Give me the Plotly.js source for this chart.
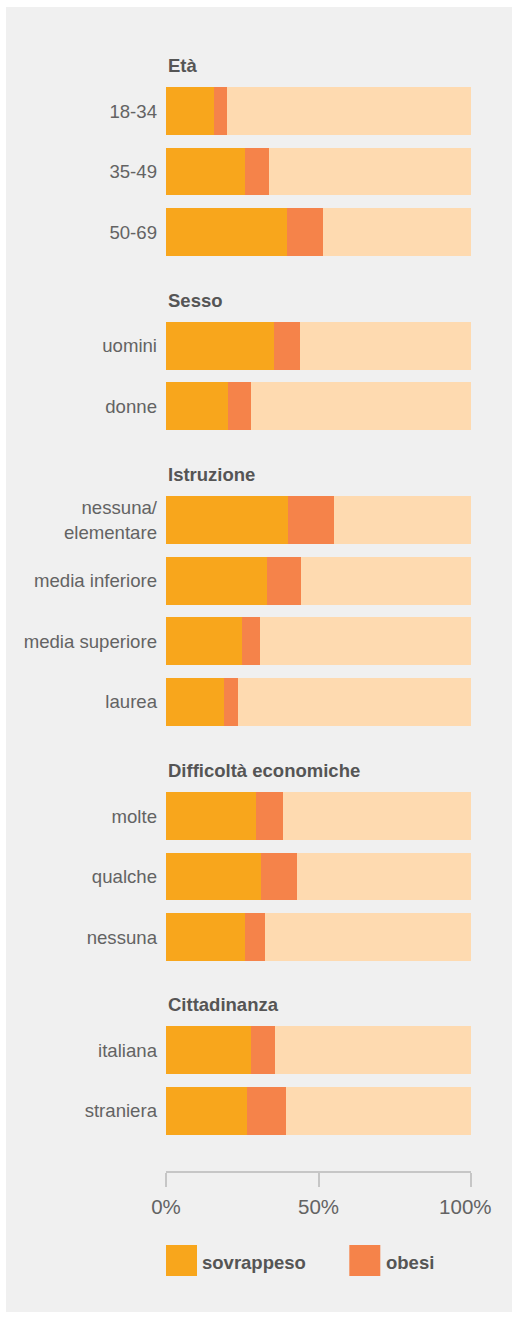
<!DOCTYPE html>
<html>
<head>
<meta charset="utf-8">
<script src="https://cdn.plot.ly/plotly-3.0.1.min.js"></script>
<style>
  html, body { margin: 0; padding: 0; background: #ffffff; }
  #chart { position: absolute; left: 6px; top: 7px; width: 506px; height: 1305px; }
</style>
</head>
<body>
<div id="chart"></div>
<script>
// ---- data (percentages) ----
const seriesNames = ["sovrappeso", "obesi", "normopeso/sottopeso"];
const groupTitles = ["Età", "Sesso", "Istruzione", "Difficoltà economiche", "Cittadinanza"];

const etaCategories = ["18-34", "35-49", "50-69"];
const etaSovrappeso = [15.8, 26.0, 39.8];
const etaObesi      = [4.3, 7.9, 11.8];
const etaResto      = [79.9, 66.1, 48.4];

const sessoCategories = ["uomini", "donne"];
const sessoSovrappeso = [35.5, 20.4];
const sessoObesi      = [8.5, 7.6];
const sessoResto      = [56.0, 72.0];

const istruzioneCategories = ["nessuna/<br>elementare", "media inferiore", "media superiore", "laurea"];
const istruzioneSovrappeso = [40.1, 33.2, 25.0, 19.1];
const istruzioneObesi      = [15.1, 11.2, 5.9, 4.6];
const istruzioneResto      = [44.8, 55.6, 69.1, 76.3];

const difficoltaCategories = ["molte", "qualche", "nessuna"];
const difficoltaSovrappeso = [29.6, 31.3, 26.0];
const difficoltaObesi      = [8.9, 11.7, 6.6];
const difficoltaResto      = [61.5, 57.0, 67.4];

const cittadinanzaCategories = ["italiana", "straniera"];
const cittadinanzaSovrappeso = [28.0, 26.7];
const cittadinanzaObesi      = [7.8, 12.7];
const cittadinanzaResto      = [64.2, 60.6];

const xTickVals = [0, 50, 100];
const xTickText = ["0%", "50%", "100%\u00a0\u00a0"];

// ---- styling ----
const colors = ["#F8A61C", "#F5834A", "#FEDAB0"];
const FONT = "'Liberation Sans', Arial, Helvetica, sans-serif";
const textColor = "#636363";
const headColor = "#555555";

const groups = [
  [etaCategories, etaSovrappeso, etaObesi, etaResto],
  [sessoCategories, sessoSovrappeso, sessoObesi, sessoResto],
  [istruzioneCategories, istruzioneSovrappeso, istruzioneObesi, istruzioneResto],
  [difficoltaCategories, difficoltaSovrappeso, difficoltaObesi, difficoltaResto],
  [cittadinanzaCategories, cittadinanzaSovrappeso, cittadinanzaObesi, cittadinanzaResto]
];

// y-domains (pixel layout of each block, div height 1305)
const H = 1305;
const domainPx = [[73.75, 255.25], [308.75, 429.25], [482.75, 725.25], [778.75, 960.25], [1012.75, 1134.25]];

const traces = [];
const layout = {
  width: 506, height: H,
  paper_bgcolor: "#f0f0f0", plot_bgcolor: "#f0f0f0",
  margin: { l: 160, r: 41, t: 0, b: 0 },
  barmode: "stack", bargap: 0.207,
  showlegend: false,
  font: { family: FONT, color: textColor },
  xaxis: {
    range: [0, 100], tickvals: xTickVals, ticktext: xTickText,
    anchor: "free", position: 1 - 1165 / H,
    showline: true, linecolor: "#c6c6c6", linewidth: 2,
    ticks: "outside", ticklen: 14, tickwidth: 2, tickcolor: "#c6c6c6",
    ticklabelstandoff: 2,
    showgrid: false, zeroline: false, fixedrange: true,
    tickfont: { size: 20.5, color: textColor, family: FONT },
    automargin: false
  },
  annotations: [],
  shapes: []
};

groups.forEach((g, i) => {
  const yName = i === 0 ? "y" : "y" + (i + 1);
  const axKey = i === 0 ? "yaxis" : "yaxis" + (i + 1);
  for (let s = 0; s < 3; s++) {
    traces.push({
      type: "bar", orientation: "h",
      x: g[s + 1], y: g[0],
      xaxis: "x", yaxis: yName,
      name: seriesNames[s],
      marker: { color: colors[s], line: { width: 0 } },
      hoverinfo: "skip"
    });
  }
  layout[axKey] = {
    type: "category", autorange: "reversed",
    domain: [1 - domainPx[i][1] / H, 1 - domainPx[i][0] / H],
    anchor: "x",
    showline: false, showgrid: false, zeroline: false, ticks: "",
    ticklabelstandoff: 8,
    tickfont: { size: 18.6, color: textColor, family: FONT },
    fixedrange: true, automargin: false
  };
  layout.annotations.push({
    text: "<b>" + groupTitles[i] + "</b>",
    xref: "paper", x: 0, xanchor: "left",
    yref: yName + " domain", y: 1, yanchor: "middle", yshift: 15,
    showarrow: false,
    font: { size: 18.5, color: headColor, family: FONT }
  });
});

// custom legend (large square swatches)
const legendItems = [
  { name: seriesNames[0], color: colors[0], x0: 0.0, tx: 0.112 },
  { name: seriesNames[1], color: colors[1], x0: 0.601, tx: 0.715 }
];
legendItems.forEach(it => {
  layout.shapes.push({
    type: "rect", xref: "paper", yref: "paper",
    x0: it.x0, x1: it.x0 + 31 / 305,
    y0: 1 - 1269 / H, y1: 1 - 1238 / H,
    fillcolor: it.color, line: { width: 0 }
  });
  layout.annotations.push({
    text: "<b>" + it.name + "</b>",
    xref: "paper", x: it.tx, xanchor: "left",
    yref: "paper", y: 1 - 1255.5 / H, yanchor: "middle",
    showarrow: false,
    font: { size: 18.5, color: headColor, family: FONT }
  });
});

Plotly.newPlot("chart", traces, layout, { displayModeBar: false, staticPlot: true });
</script>
</body>
</html>
